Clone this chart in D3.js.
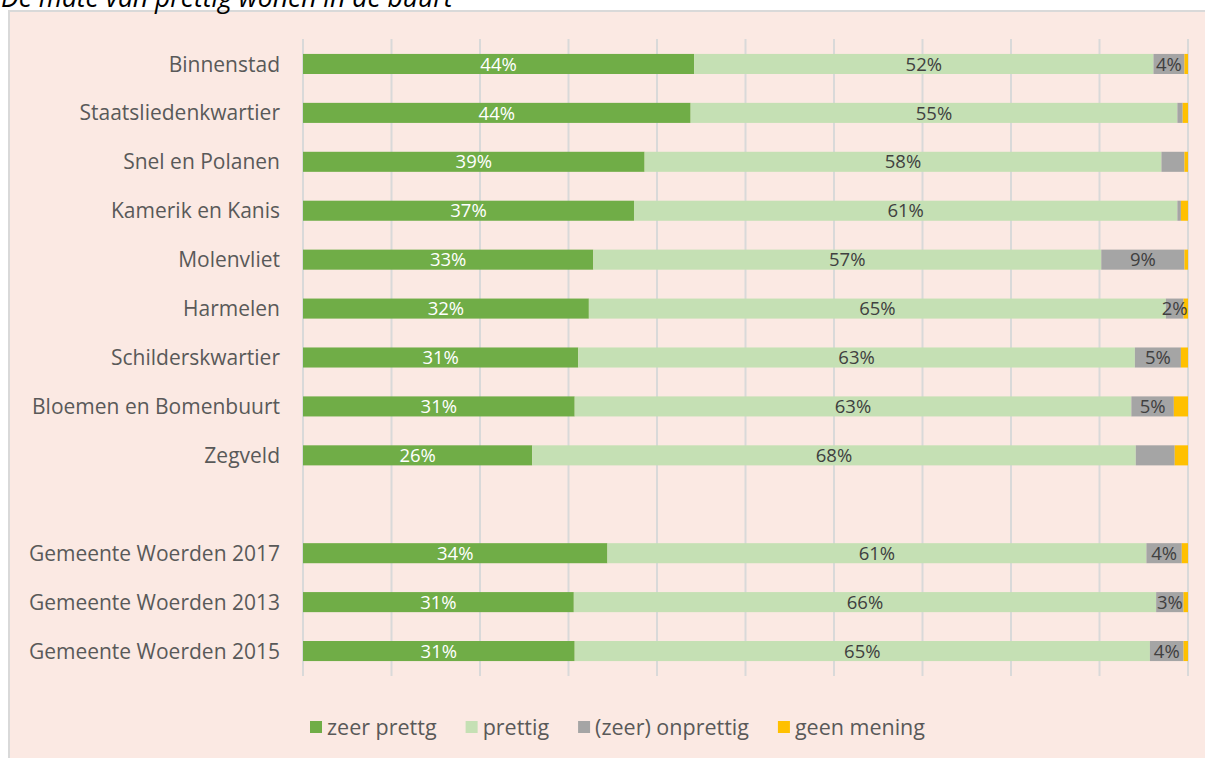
<!DOCTYPE html>
<html>
<head>
<meta charset="utf-8">
<script src="https://cdn.jsdelivr.net/npm/d3@7"></script>
<style>
  body { margin: 0; background: #ffffff; }
  svg { display: block; font-family: "Open Sans", sans-serif; }
</style>
</head>
<body>
<div class="content"></div>
<script>
const SVG_WIDTH = 1205;
const SVG_HEIGHT = 758;

// "" is the empty row between the neighbourhoods and the municipality totals
const categories = ["Binnenstad", "Staatsliedenkwartier", "Snel en Polanen", "Kamerik en Kanis",
  "Molenvliet", "Harmelen", "Schilderskwartier", "Bloemen en Bomenbuurt", "Zegveld", "",
  "Gemeente Woerden 2017", "Gemeente Woerden 2013", "Gemeente Woerden 2015"];

const zeerPrettig = [44.2, 43.8, 38.6, 37.4, 32.8, 32.3, 31.1, 30.7, 25.9, null, 34.4, 30.6, 30.7];
const prettig     = [51.9, 55.0, 58.4, 61.4, 57.4, 65.2, 62.9, 62.9, 68.2, null, 60.9, 65.8, 65.0];
const onprettig   = [3.5, 0.6, 2.6, 0.4, 9.4, 2.0, 5.2, 4.8, 4.4, null, 4.0, 3.1, 3.8];
const geenMening  = [0.4, 0.6, 0.4, 0.8, 0.4, 0.5, 0.8, 1.6, 1.5, null, 0.7, 0.5, 0.5];
// which grey segments carry a label in the original
const onprettigLabel = [true, false, false, false, true, true, true, true, false, null, true, true, true];

const seriesNames = ["zeer prettg", "prettig", "(zeer) onprettig", "geen mening"];
const seriesColors = ["#70ad47", "#c5e0b4", "#a5a5a5", "#ffc000"];
const xTicks = [0, 10, 20, 30, 40, 50, 60, 70, 80, 90, 100];

const svg = d3.select(".content").append("svg")
  .attr("width", SVG_WIDTH).attr("height", SVG_HEIGHT);

// panel
svg.append("rect").attr("x", 9).attr("y", 11).attr("width", 1220).attr("height", 780)
  .attr("fill", "#fbe9e3").attr("stroke", "#d9d9d9").attr("stroke-width", 2);

// title, cut off at the top like in the original
svg.append("text").attr("x", 1).attr("y", 7)
  .style("font-style", "italic").style("font-size", "26.5px").attr("fill", "#000")
  .text("De mate van prettig wonen in de buurt");

const x = d3.scaleLinear().domain([0, 100]).range([303, 1188]);
const y = d3.scaleBand().domain(categories).range([39.5, 675.5])
  .paddingInner(0.59).paddingOuter(0.295);

// gridlines
svg.append("g").selectAll("line").data(xTicks).join("line")
  .attr("x1", d => x(d)).attr("x2", d => x(d))
  .attr("y1", 39).attr("y2", 676)
  .attr("stroke", "#d9d9d9").attr("stroke-width", 2);

// build rows
let rows = [];
categories.forEach((c, i) => {
  if (zeerPrettig[i] === null) return;
  rows.push({cat: c, vals: [zeerPrettig[i], prettig[i], onprettig[i], geenMening[i]], greyLabel: onprettigLabel[i]});
});

let segments = [];
rows.forEach(r => {
  let start = 0;
  r.vals.forEach((v, k) => {
    segments.push({cat: r.cat, k: k, x0: start, x1: start + v, v: v,
      label: (k < 2 || (k === 2 && r.greyLabel)) ? Math.round(v) + "%" : null});
    start += v;
  });
});

svg.append("g").selectAll("rect").data(segments).join("rect")
  .attr("x", d => x(d.x0))
  .attr("width", d => x(d.x1) - x(d.x0))
  .attr("y", d => y(d.cat))
  .attr("height", y.bandwidth())
  .attr("fill", d => seriesColors[d.k]);

svg.append("g").selectAll("text").data(segments.filter(d => d.label)).join("text")
  .attr("x", d => (x(d.x0) + x(d.x1)) / 2)
  .attr("y", d => y(d.cat) + y.bandwidth() / 2)
  .attr("dy", "0.36em")
  .attr("text-anchor", "middle")
  .style("font-size", "18.5px")
  .attr("fill", d => d.k === 0 ? "#ffffff" : "#404040")
  .text(d => d.label);

// category labels
svg.append("g").selectAll("text").data(categories.filter(c => c !== "")).join("text")
  .attr("x", 280)
  .attr("y", d => y(d) + y.bandwidth() / 2)
  .attr("dy", "0.36em")
  .attr("text-anchor", "end")
  .style("font-size", "21px")
  .attr("fill", "#595959")
  .text(d => d);

// legend
const legend = svg.append("g");
let lx = 310;
seriesNames.forEach((name, k) => {
  legend.append("rect").attr("x", lx).attr("y", 721).attr("width", 12).attr("height", 12)
    .attr("fill", seriesColors[k]);
  const t = legend.append("text").attr("x", lx + 17).attr("y", 727).attr("dy", "0.36em")
    .style("font-size", "21.5px").attr("fill", "#595959").text(name);
  lx += 17 + t.node().getComputedTextLength() + 29;
});
</script>
</body>
</html>
